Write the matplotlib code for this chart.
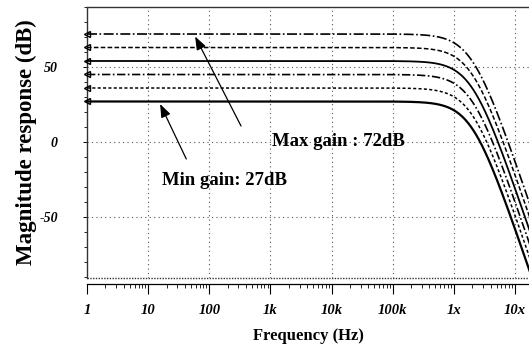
import numpy as np
import matplotlib
matplotlib.use("Agg")
import matplotlib.pyplot as plt
from matplotlib.ticker import FixedLocator, LogLocator, NullFormatter, MultipleLocator

# ---- data ----
gains_db = [72, 63, 54, 45, 36, 27]
corner_hz = 2.0e6
filter_order = 6
styles = [(0, (6, 1.5, 1, 1.5)), (0, (3, 1.5)), '-', (0, (5, 1.5, 1, 1.5)), (0, (2, 1.5)), '-']
widths = [1.2, 1.1, 1.3, 1.2, 1.1, 1.6]
xtick_vals = [1, 10, 100, 1e3, 1e4, 1e5, 1e6, 1e7]
xtick_labels = ['1', '10', '100', '1k', '10k', '100k', '1x', '10x']
ytick_vals = [-50, 0, 50]
ytick_labels = ['-50', '0', '50']

freq = np.logspace(0, 7.3, 1000)

fig = plt.figure(figsize=(5.29, 3.45), dpi=100)
ax = fig.add_axes([87/529, 67/345, 442/529, 271/345])

for g, ls, lw in zip(gains_db, styles, widths):
    mag = g - 10 * filter_order * np.log10(1 + (freq / corner_hz) ** 2)
    ax.plot(freq, mag, color='black', linestyle=ls, linewidth=lw,
            marker='<', markevery=[0], markersize=4, markerfacecolor='none',
            markeredgecolor='black', clip_on=False, zorder=3)

ax.set_xscale('log')
ax.set_xlim(1, 10**7.23)
ax.set_ylim(-90.7, 90)

# grid
for xv in xtick_vals[1:]:
    ax.axvline(xv, color='#555555', linestyle=(0, (1, 3)), linewidth=0.8, zorder=1)
for yv in ytick_vals:
    ax.axhline(yv, color='#555555', linestyle=(0, (1, 3)), linewidth=0.8, zorder=1)

# frame
for s in ['left', 'top']:
    ax.spines[s].set_linestyle((0, (1, 1)))
    ax.spines[s].set_color('#333333')
    ax.spines[s].set_linewidth(1.0)
ax.spines['right'].set_visible(False)
ax.spines['bottom'].set_position(('outward', 4))
ax.spines['bottom'].set_linewidth(0.9)
ax.plot([0, 1], [0, 0], transform=ax.transAxes, color='#333333',
        linestyle=(0, (1, 1)), linewidth=1.0, clip_on=False)

ax.xaxis.set_major_locator(FixedLocator(xtick_vals))
ax.set_xticklabels(xtick_labels, family='Liberation Serif', style='italic',
                   fontsize=10.5, fontweight='bold')
ax.xaxis.set_minor_locator(LogLocator(base=10, subs=np.arange(2, 10)))
ax.xaxis.set_minor_formatter(NullFormatter())
ax.tick_params(axis='x', which='major', direction='out', length=7, width=0.8, pad=8)
ax.tick_params(axis='x', which='minor', direction='out', length=3, width=0.6)

ax.set_yticks(ytick_vals)
ax.set_yticklabels(ytick_labels, family='Liberation Serif', style='italic',
                   fontsize=10, fontweight='bold')
ax.yaxis.set_minor_locator(MultipleLocator(10))
ax.tick_params(axis='y', which='major', direction='out', length=3, width=0.7, pad=18)
ax.tick_params(axis='y', which='minor', direction='out', length=2, width=0.6)

ax.set_xlabel('Frequency (Hz)', family='Liberation Serif', fontweight='bold',
              fontsize=12, labelpad=8)
ax.set_ylabel('Magnitude response (dB)', family='Liberation Serif', fontweight='bold',
              fontsize=16.5, labelpad=0)
ax.yaxis.set_label_coords(-0.113, 0.5)

ax.annotate('', xy=(56, 72), xytext=(347, 9),
            arrowprops=dict(arrowstyle='-|>,head_length=0.8,head_width=0.3',
                            color='black', lw=0.9))
ax.annotate('', xy=(15, 27), xytext=(44, -13),
            arrowprops=dict(arrowstyle='-|>,head_length=0.8,head_width=0.3',
                            color='black', lw=0.9))
ax.text(1045, 0, 'Max gain : 72dB', family='Liberation Serif', fontweight='bold',
        fontsize=13.5, va='center', ha='left')
ax.text(17, -26, 'Min gain: 27dB', family='Liberation Serif', fontweight='bold',
        fontsize=13.5, va='center', ha='left')

fig.savefig('out.png', dpi=100)
